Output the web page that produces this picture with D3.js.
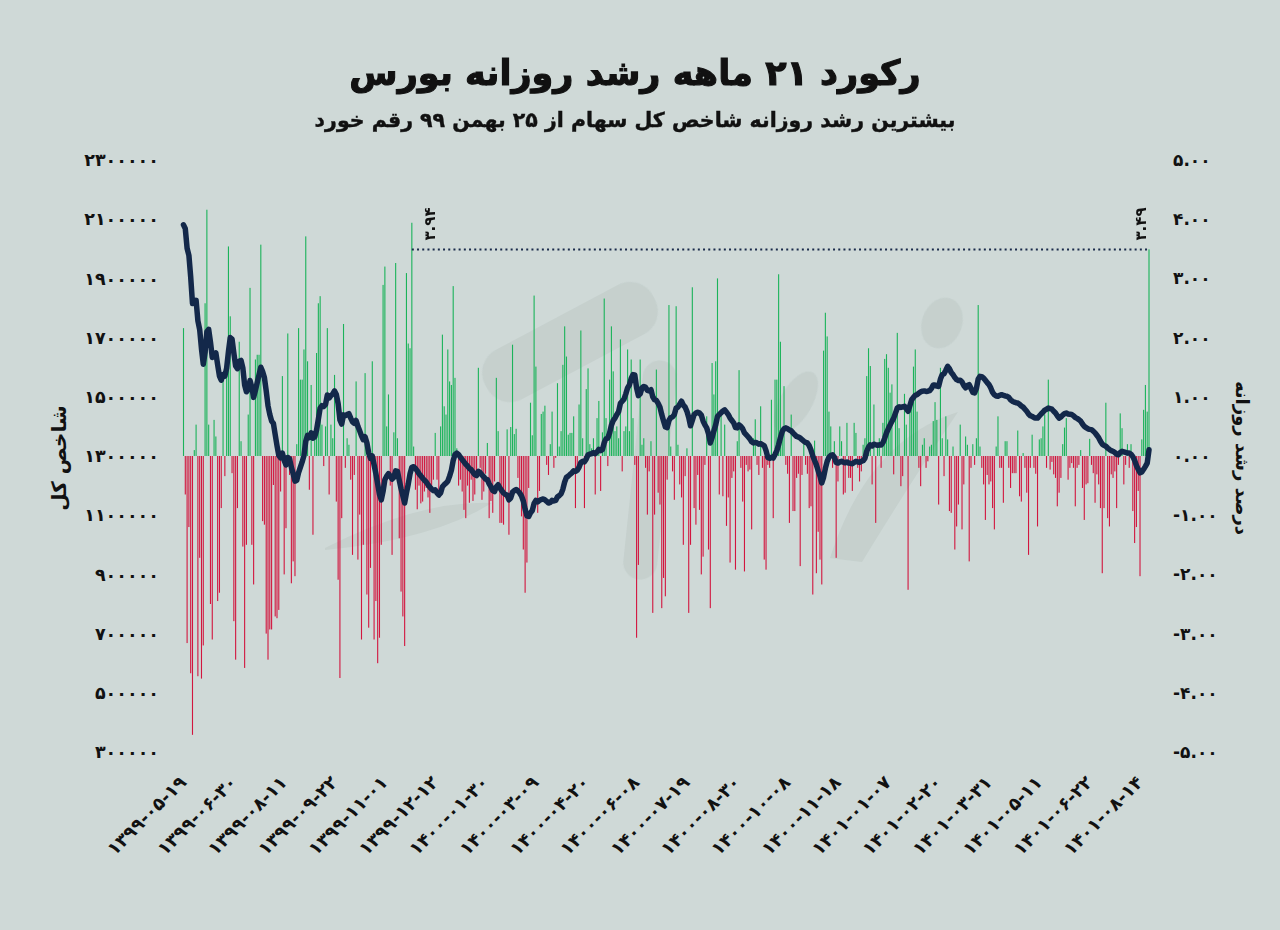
<!DOCTYPE html>
<html><head><meta charset="utf-8">
<script src="https://cdn.jsdelivr.net/npm/d3@7/dist/d3.min.js"></script>
<style>
html,body{margin:0;padding:0;background:#cfd9d7;}
svg{display:block;}
text{font-family:"DejaVu Sans",sans-serif;font-weight:bold;fill:#111;}
</style></head><body>
<svg id="chart" width="1280" height="930"></svg>
<script>
// ---------- DATA ----------
const titleText = "رکورد ۲۱ ماهه رشد روزانه بورس";
const subtitleText = "بیشترین رشد روزانه شاخص کل سهام از ۲۵ بهمن ۹۹ رقم خورد";
const leftAxisTitle = "شاخص کل";
const rightAxisTitle = "درصد رشد روزانه";

// tick labels on the day axis (every 28 trading days)
const xTickLabels = ["۱۳۹۹-۰۵-۱۹","۱۳۹۹-۰۶-۳۰","۱۳۹۹-۰۸-۱۱","۱۳۹۹-۰۹-۲۲","۱۳۹۹-۱۱-۰۱","۱۳۹۹-۱۲-۱۲",
 "۱۴۰۰-۰۱-۳۰","۱۴۰۰-۰۳-۰۹","۱۴۰۰-۰۴-۲۰","۱۴۰۰-۰۶-۰۸","۱۴۰۰-۰۷-۱۹","۱۴۰۰-۰۸-۳۰","۱۴۰۰-۱۰-۰۸",
 "۱۴۰۰-۱۱-۱۸","۱۴۰۱-۰۱-۰۷","۱۴۰۱-۰۲-۲۰","۱۴۰۱-۰۳-۳۱","۱۴۰۱-۰۵-۱۱","۱۴۰۱-۰۶-۲۲","۱۴۰۱-۰۸-۱۴"];
const xTickDays = [0,28,56,84,112,140,168,196,224,252,280,308,336,364,392,420,448,476,504,532];
const leftTicks = [300000,500000,700000,900000,1100000,1300000,1500000,1700000,1900000,2100000,2300000];
const rightTicks = [-5,-4,-3,-2,-1,0,1,2,3,4,5];

// daily growth of the index, percent (one value per trading day)
const dailyGrowth = [
 2.16,-0.65,-3.16,-1.2,-3.67,-4.71,0.1,0.53,-3.72,-1.72,
 -3.76,-3.2,2.58,4.16,0.53,-2.5,-3.1,0.61,0.33,-2.45,
 -2.31,-0.88,1.29,-0.34,1.68,3.54,2.36,-0.29,-2.79,-3.44,
 -0.88,1.93,0.25,-1.53,-3.58,-1.5,0.7,2.84,-1.5,-2.17,
 1.63,1.71,1.71,3.57,-1.1,-1.16,-3.0,-3.44,-2.93,-2.93,
 -0.49,-2.71,-2.74,-2.6,-0.6,1.35,-2.0,-1.22,2.07,-0.32,
 -2.15,-1.78,-2.03,0.2,2.16,1.29,1.29,1.8,3.71,1.6,
 -0.57,1.2,-1.33,0.4,1.74,2.58,2.7,0.53,-0.17,0.5,
 2.16,-0.65,0.53,0.3,1.37,-0.77,-2.09,-3.75,-1.05,2.23,
 -0.2,0.3,0.19,-0.4,-1.67,-0.32,1.26,-1.75,-0.99,-3.1,
 -1.5,1.4,-2.34,-2.9,-1.89,1.6,-3.1,-2.45,-3.5,-3.07,
 -1.5,2.89,3.2,0.5,1.04,-0.5,-1.67,0.4,3.26,0.3,
 -1.39,-2.29,-2.71,-3.21,3.09,1.9,1.82,3.94,0.16,-0.57,
 -0.9,-0.5,-0.8,-0.77,-0.6,-0.54,-0.7,-0.96,-0.5,-0.4,
 0.39,-0.4,-0.65,0.5,2.05,0.84,0.7,1.8,1.26,1.2,
 2.87,1.32,0.13,-0.5,-0.4,-0.6,-0.91,-1.05,-0.5,-0.79,
 -0.4,-0.76,-0.65,-0.3,1.49,-0.2,-0.74,-0.6,-0.3,0.22,
 -1.05,-0.76,-0.96,-0.43,1.32,0.42,-1.13,-1.13,-1.16,-0.7,
 0.45,-1.33,0.49,1.88,0.37,0.46,-0.37,-0.57,-1.02,-1.58,
 -2.31,-1.8,-0.54,0.9,0.35,2.71,1.51,-0.96,-0.59,0.71,
 0.75,0.85,-0.15,-0.32,0.2,0.75,-0.2,-0.03,1.23,0.16,
 0.42,1.54,2.19,1.68,0.36,0.39,0.39,0.67,-0.88,-0.26,
 0.87,2.12,0.3,-0.88,1.13,1.48,0.2,0.13,0.3,-0.65,
 0.64,0.93,-0.59,0.4,2.66,0.64,-0.17,1.29,2.19,1.43,
 0.42,0.5,0.3,1.97,-0.26,0.42,0.5,1.8,0.42,1.63,
 0.64,-0.15,-3.07,-1.84,1.63,0.19,0.3,-0.2,-0.99,-0.26,
 0.25,-2.65,-0.99,1.46,-0.62,-0.82,-2.57,-2.06,-2.37,-0.4,
 2.55,0.16,-0.26,-0.74,2.53,0.19,-0.48,-0.7,-1.5,-0.34,
 0.13,-2.65,-1.5,2.85,-0.88,-1.16,-0.32,-0.91,-2.0,-1.7,
 -0.15,0.67,-1.58,-2.57,1.57,1.04,1.6,3.0,-0.65,0.75,
 -0.68,0.53,-1.18,-0.7,-1.8,-0.37,-0.26,-1.92,0.25,1.45,
 -0.2,-0.77,-1.95,-0.15,-0.26,-0.23,-1.24,0.3,0.62,-0.15,
 -0.32,0.84,-0.2,-1.75,-1.92,-0.15,-0.2,0.95,-1.05,1.29,
 1.29,3.07,1.93,0.42,1.18,-0.15,-0.3,-1.13,0.7,-0.93,
 -0.93,-0.37,-0.3,-1.86,-0.32,0.2,-0.15,-0.3,-0.88,-0.85,
 -2.34,0.26,-1.98,-1.28,-1.75,-2.17,1.78,2.42,2.02,0.75,
 0.5,-0.2,0.25,-1.72,-0.43,0.5,0.25,-0.65,-0.62,0.56,
 -0.37,-0.37,-0.59,0.56,0.39,-0.2,-0.43,-0.26,0.19,0.3,
 1.35,1.82,1.52,-0.48,0.87,-1.13,0.2,0.3,-0.2,0.56,
 1.64,1.72,1.49,1.07,1.21,-0.31,0.64,2.08,0.47,-0.51,
 -0.34,1.05,0.53,-2.26,0.75,0.98,1.51,1.8,0.75,-0.2,
 -0.51,0.19,0.3,-0.2,-0.09,0.16,0.19,0.59,0.91,0.61,
 -0.82,1.49,0.3,-0.34,0.67,0.28,-0.93,-0.96,0.16,-1.58,
 -1.19,-0.82,0.53,-1.24,-0.48,0.33,0.19,-1.78,-0.2,0.2,
 -0.15,0.3,2.55,0.16,-0.2,-0.48,-1.08,-0.32,-0.48,-0.43,
 -0.88,-1.24,0.16,0.67,-0.2,-0.2,-0.79,0.25,0.25,-0.2,
 -0.54,-0.29,-0.29,-0.29,0.43,-0.68,-0.77,0.05,-0.2,-0.62,
 -1.67,-0.2,0.36,-0.2,-0.3,-1.19,0.28,0.3,0.5,0.7,
 -0.2,1.29,-0.23,-0.1,-0.31,-0.37,-0.85,-0.62,-0.37,0.2,
 0.48,0.64,-0.4,-0.2,-0.12,-0.2,-0.85,-0.2,-0.15,0.1,
 -0.54,-1.08,-0.48,-0.46,0.29,-0.15,-0.29,-0.79,-0.31,-0.48,
 -0.88,-1.98,-0.88,0.9,-1.05,-1.19,-0.31,-0.37,-0.26,-0.88,
 -0.15,0.72,0.47,-0.48,-0.15,0.2,-0.2,0.2,-0.93,-1.47,
 -1.2,-0.59,-2.03,0.28,0.78,1.2,0.75,3.49
];

// TEDPIX total index, in thousands of points (one value per trading day)
const indexK = [
 2081,2068,2002,1978,1905,1815,1818,1826,1757,1727,
 1662,1610,1650,1720,1728,1685,1633,1642,1648,1608,
 1570,1556,1575,1570,1597,1653,1700,1695,1648,1604,
 1595,1620,1623,1598,1540,1517,1525,1555,1532,1498,
 1522,1548,1574,1600,1585,1565,1520,1470,1440,1418,
 1410,1372,1335,1302,1294,1310,1285,1270,1295,1290,
 1262,1240,1215,1218,1244,1262,1280,1302,1350,1370,
 1362,1378,1360,1365,1388,1424,1462,1470,1467,1474,
 1506,1496,1504,1509,1520,1508,1477,1422,1408,1439,
 1436,1440,1443,1428,1415,1410,1420,1400,1385,1368,
 1355,1365,1345,1310,1292,1300,1270,1240,1205,1170,
 1152,1180,1220,1232,1240,1232,1222,1228,1250,1248,
 1218,1190,1165,1141,1175,1205,1240,1262,1264,1258,
 1250,1240,1233,1225,1218,1212,1203,1195,1188,1183,
 1186,1175,1168,1175,1196,1203,1208,1215,1232,1252,
 1285,1305,1310,1305,1296,1288,1280,1272,1266,1258,
 1254,1245,1237,1234,1248,1244,1236,1230,1222,1220,
 1206,1196,1183,1180,1196,1203,1192,1183,1175,1170,
 1168,1152,1158,1178,1183,1187,1182,1175,1165,1148,
 1120,1098,1096,1108,1116,1140,1150,1145,1150,1153,
 1155,1152,1147,1141,1143,1150,1148,1150,1162,1166,
 1172,1188,1212,1228,1232,1238,1243,1250,1248,1252,
 1262,1278,1282,1280,1290,1304,1306,1308,1312,1308,
 1314,1322,1318,1322,1345,1358,1360,1378,1404,1420,
 1428,1440,1450,1478,1485,1492,1510,1530,1540,1562,
 1575,1574,1530,1504,1510,1530,1535,1532,1522,1520,
 1524,1500,1490,1488,1478,1465,1440,1418,1398,1396,
 1420,1430,1432,1440,1462,1465,1475,1485,1472,1465,
 1451,1430,1402,1420,1440,1445,1448,1445,1438,1418,
 1405,1395,1375,1344,1362,1385,1405,1434,1440,1446,
 1452,1456,1448,1440,1428,1420,1412,1396,1395,1405,
 1400,1392,1378,1372,1365,1358,1348,1344,1346,1344,
 1340,1342,1338,1335,1318,1295,1292,1296,1293,1305,
 1318,1338,1362,1383,1392,1395,1392,1388,1385,1378,
 1372,1366,1364,1361,1355,1350,1346,1344,1335,1320,
 1300,1285,1270,1250,1232,1209,1228,1258,1282,1296,
 1302,1304,1296,1278,1276,1280,1282,1279,1277,1280,
 1276,1275,1274,1278,1282,1280,1278,1282,1284,1292,
 1316,1330,1338,1334,1340,1338,1336,1338,1337,1345,
 1360,1378,1392,1405,1417,1428,1445,1462,1466,1464,
 1466,1468,1460,1451,1470,1490,1498,1505,1507,1512,
 1517,1519,1520,1518,1519,1521,1528,1540,1540,1536,
 1535,1560,1575,1578,1590,1603,1595,1582,1575,1565,
 1558,1555,1556,1550,1538,1530,1538,1541,1528,1515,
 1513,1528,1560,1569,1568,1563,1556,1548,1541,1530,
 1515,1507,1503,1502,1505,1507,1505,1503,1502,1498,
 1490,1485,1482,1480,1479,1475,1469,1465,1458,1451,
 1442,1436,1434,1430,1428,1428,1435,1442,1448,1455,
 1458,1462,1460,1458,1451,1445,1436,1428,1432,1438,
 1443,1445,1442,1441,1440,1436,1430,1427,1423,1418,
 1408,1400,1396,1392,1390,1389,1384,1378,1370,1362,
 1350,1340,1336,1333,1327,1322,1318,1316,1312,1306,
 1304,1312,1316,1314,1312,1310,1310,1306,1298,1285,
 1268,1255,1243,1246,1255,1265,1276,1321
];

// highlighted days: 25 Bahman 99 record and the latest day
const highlightDays = [127, 537];

// ---------- DRAW ----------
const fa = s => String(s).replace(/[0-9]/g, d => "۰۱۲۳۴۵۶۷۸۹"[+d]).replace(/\u2212/g, "-");
const svg = d3.select("#chart");
const W = 1280, H = 930;
svg.append("rect").attr("width", W).attr("height", H).attr("fill", "#cfd9d7");

// faint background watermark (decorative)
const wm = svg.append("g").attr("fill", "#c3cecb").attr("opacity", 0.8);
wm.append("rect").attr("x", -95).attr("y", -28).attr("width", 190).attr("height", 56).attr("rx", 26)
  .attr("transform", "translate(570,342) rotate(-28)");
wm.append("rect").attr("x", -17).attr("y", -110).attr("width", 34).attr("height", 220).attr("rx", 17)
  .attr("transform", "translate(650,470) rotate(6)");
wm.append("ellipse").attr("rx", 20).attr("ry", 26).attr("transform", "translate(942,323) rotate(20)");
wm.append("path").attr("d", "M830,558 Q868,440 958,412 Q912,480 862,562 Z");
wm.append("path").attr("d", "M325,548 Q420,500 492,503 Q432,540 325,550 Z");
wm.append("ellipse").attr("rx", 16).attr("ry", 34).attr("transform", "translate(796,402) rotate(30)");

const days = d3.range(dailyGrowth.length);
const x = d3.scaleLinear().domain([0, days.length - 1]).range([183.5, 1149]);
const yL = d3.scaleLinear().domain([300000, 2300000]).range([752, 160]);
const yR = d3.scaleLinear().domain([-5, 5]).range([752, 160]);

// title
svg.append("text").attr("x", 635).attr("y", 85).attr("text-anchor", "middle")
  .attr("direction", "rtl").style("font-size", "35px").attr("stroke", "#111").attr("stroke-width", 1.1)
  .text(titleText);
svg.append("text").attr("x", 635).attr("y", 127).attr("text-anchor", "middle")
  .attr("direction", "rtl").style("font-size", "20.5px").attr("stroke", "#111").attr("stroke-width", 0.4)
  .text(subtitleText);

// bars
const bw = 1.1;
svg.append("g").selectAll("rect").data(days).join("rect")
  .attr("x", i => x(i) - bw / 2)
  .attr("width", bw)
  .attr("y", i => Math.min(yR(dailyGrowth[i]), yR(0)))
  .attr("height", i => Math.abs(yR(dailyGrowth[i]) - yR(0)))
  .attr("fill", i => dailyGrowth[i] >= 0 ? "#1bb35a" : "#d2163f");

// dotted reference line at latest day's growth
const last = highlightDays[1], rec = highlightDays[0];
svg.append("line")
  .attr("x1", x(rec)).attr("x2", x(last))
  .attr("y1", yR(dailyGrowth[last])).attr("y2", yR(dailyGrowth[last]))
  .attr("stroke", "#1a2a4a").attr("stroke-width", 2).attr("stroke-dasharray", "2,3.2");

// index line
svg.append("path").datum(indexK)
  .attr("fill", "none").attr("stroke", "#13284a").attr("stroke-width", 5.5)
  .attr("stroke-linejoin", "round").attr("stroke-linecap", "round")
  .attr("d", d3.line().x((d, i) => x(i)).y(d => yL(d * 1000)));

// annotations
const annOffsets = [18, -8];
highlightDays.forEach((d, k) => {
  svg.append("text")
    .attr("transform", `translate(${x(d) + annOffsets[k]},${224}) rotate(-90)`)
    .attr("text-anchor", "middle").attr("dy", "0.35em")
    .style("font-size", "15px").text(fa(d3.format(".2f")(dailyGrowth[d])));
});

// left axis
const gL = svg.append("g").attr("transform", "translate(159,0)")
  .call(d3.axisLeft(yL).tickValues(leftTicks).tickSize(0).tickPadding(0).tickFormat(d => fa(d)));
gL.select(".domain").remove();
gL.selectAll("text").style("font-size", "17.5px").style("font-family", "DejaVu Sans").style("font-weight", "bold").attr("fill", "#111");

// right axis
const gR = svg.append("g").attr("transform", "translate(1173,0)")
  .call(d3.axisRight(yR).tickValues(rightTicks).tickSize(0).tickPadding(0).tickFormat(d => fa(d3.format(".2f")(d))));
gR.select(".domain").remove();
gR.selectAll("text").style("font-size", "17px").style("font-family", "DejaVu Sans").style("font-weight", "bold").attr("fill", "#111");

// bottom axis
const gX = svg.append("g").attr("transform", "translate(0,768)")
  .call(d3.axisBottom(x).tickValues(xTickDays).tickSize(0).tickFormat((d, i) => xTickLabels[i]));
gX.select(".domain").remove();
gX.selectAll("text")
  .attr("y", 0).attr("x", 0).attr("dy", "0.35em")
  .attr("text-anchor", "end")
  .attr("transform", "translate(-1,11) rotate(-45)")
  .style("font-size", "18px").style("font-family", "DejaVu Sans").style("font-weight", "bold").attr("fill", "#111");

// axis titles
svg.append("text").attr("transform", "translate(66,458) rotate(-90)")
  .attr("text-anchor", "middle").attr("direction", "rtl").style("font-size", "20px").text(leftAxisTitle);
svg.append("text").attr("transform", "translate(1236,458) rotate(90)")
  .attr("text-anchor", "middle").attr("direction", "rtl").style("font-size", "18px").text(rightAxisTitle);
</script>
</body></html>
